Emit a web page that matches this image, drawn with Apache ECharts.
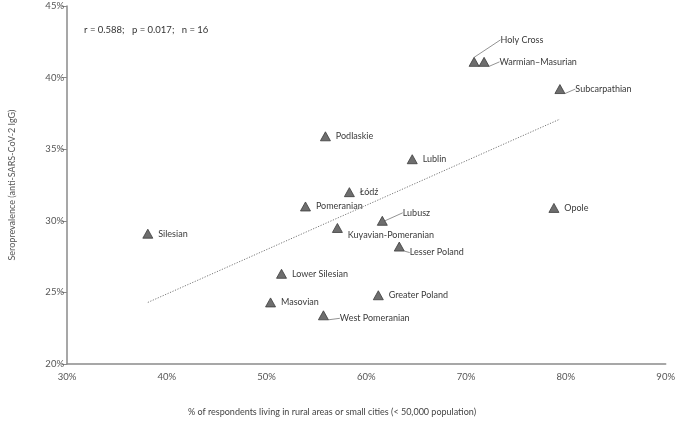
<!DOCTYPE html>
<html>
<head>
<meta charset="utf-8">
<script src="https://cdn.jsdelivr.net/npm/echarts@6/dist/echarts.min.js"></script>
<style>html,body{margin:0;padding:0;background:#fff}#c{width:678px;height:421px}</style>
</head>
<body>
<div id="c"></div>
<script>
// ---- data ----
const regions = ['Holy Cross','Warmian\u2013Masurian','Subcarpathian','Podlaskie','Lublin','\u0141\u00f3d\u017a','Opole','Pomeranian','Lubusz','Kuyavian-Pomeranian','Lesser Poland','Silesian','Lower Silesian','Masovian','West Pomeranian','Greater Poland'];
const ruralPct = [70.8, 71.8, 79.4, 55.9, 64.6, 58.3, 78.8, 53.9, 61.6, 57.1, 63.3, 38.1, 51.5, 50.4, 55.7, 61.2];
const seroPct  = [41.1, 41.1, 39.2, 35.9, 34.3, 32.0, 30.9, 31.0, 30.0, 29.5, 28.2, 29.1, 26.3, 24.3, 23.4, 24.8];
const trendX = [38.1, 79.4];
const trendY = [24.3, 37.1];
const xTicks = [30, 40, 50, 60, 70, 80, 90];
const yTicks = [20, 25, 30, 35, 40, 45];
const statsText = 'r = 0.588;   p = 0.017;   n = 16';
const xTitle = '% of respondents living in rural areas or small cities (< 50,000 population)';
const yTitle = 'Seroprevalence (anti-SARS-CoV-2 IgG)';

// ---- label placement (style) ----
const labelMove = {
  'Holy Cross': [16, -22, true],
  'Warmian\u2013Masurian': [5, 0, true],
  'Subcarpathian': [5, 0, true],
  'Lubusz': [10, -8, true],
  'Lesser Poland': [0, 6, true],
  'Kuyavian-Pomeranian': [0, 7, false],
  'West Pomeranian': [6, 3, true]
};

const FONT = 'Lato';
const data = regions.map((n, i) => ({
  name: n,
  value: [ruralPct[i], seroPct[i]],
  labelLine: { show: !!(labelMove[n] && labelMove[n][2]) }
}));

const chart = echarts.init(document.getElementById('c'), null, { renderer: 'canvas' });
chart.setOption({
  animation: false,
  grid: { left: 63, right: 8, top: 6, bottom: 57, containLabel: false },
  xAxis: {
    type: 'value', min: xTicks[0], max: xTicks[xTicks.length - 1], interval: 10,
    axisLine: { show: true, lineStyle: { color: '#8a8a8a', width: 1.5 } },
    axisTick: { show: false },
    splitLine: { show: false },
    axisLabel: { formatter: '{value}%', color: '#555', fontFamily: FONT, fontSize: 9.5, margin: 8 }
  },
  yAxis: {
    type: 'value', min: yTicks[0], max: yTicks[yTicks.length - 1], interval: 5,
    axisLine: { show: true, lineStyle: { color: '#8a8a8a', width: 1.5 } },
    axisTick: { show: true, length: 5, lineStyle: { color: '#8a8a8a' } },
    splitLine: { show: false },
    axisLabel: { formatter: '{value}%', color: '#555', fontFamily: FONT, fontSize: 9.5, margin: 3 },
    name: yTitle,
    nameLocation: 'middle', nameGap: 50, nameRotate: 90,
    nameTextStyle: { color: '#555', fontFamily: FONT, fontSize: 9 }
  },
  graphic: [
    { type: 'text', left: 84, top: 25, style: { text: statsText, fill: '#333', font: '9.5px ' + FONT } },
    { type: 'text', left: 188, top: 408, style: { text: xTitle, fill: '#444', font: '9px ' + FONT } }
  ],
  series: [
    {
      type: 'line',
      data: trendX.map((x, i) => [x, trendY[i]]),
      symbol: 'none',
      lineStyle: { type: [1.2, 1.5], color: '#777', width: 1 },
      silent: true, z: 1
    },
    {
      type: 'scatter',
      data: data,
      symbol: 'triangle',
      symbolSize: [10, 9],
      itemStyle: { color: '#6e6e6e', borderColor: '#3c3c3c', borderWidth: 0.8, opacity: 1 },
      label: {
        show: true, position: 'right', distance: 5, formatter: '{b}',
        color: '#3a3a3a', fontFamily: FONT, fontSize: 9
      },
      labelLine: { lineStyle: { color: '#777', width: 0.8 } },
      labelLayout: function (p) {
        const m = labelMove[regions[p.dataIndex]];
        return m ? { dx: m[0], dy: m[1] } : {};
      },
      z: 3
    }
  ]
});
</script>
</body>
</html>
